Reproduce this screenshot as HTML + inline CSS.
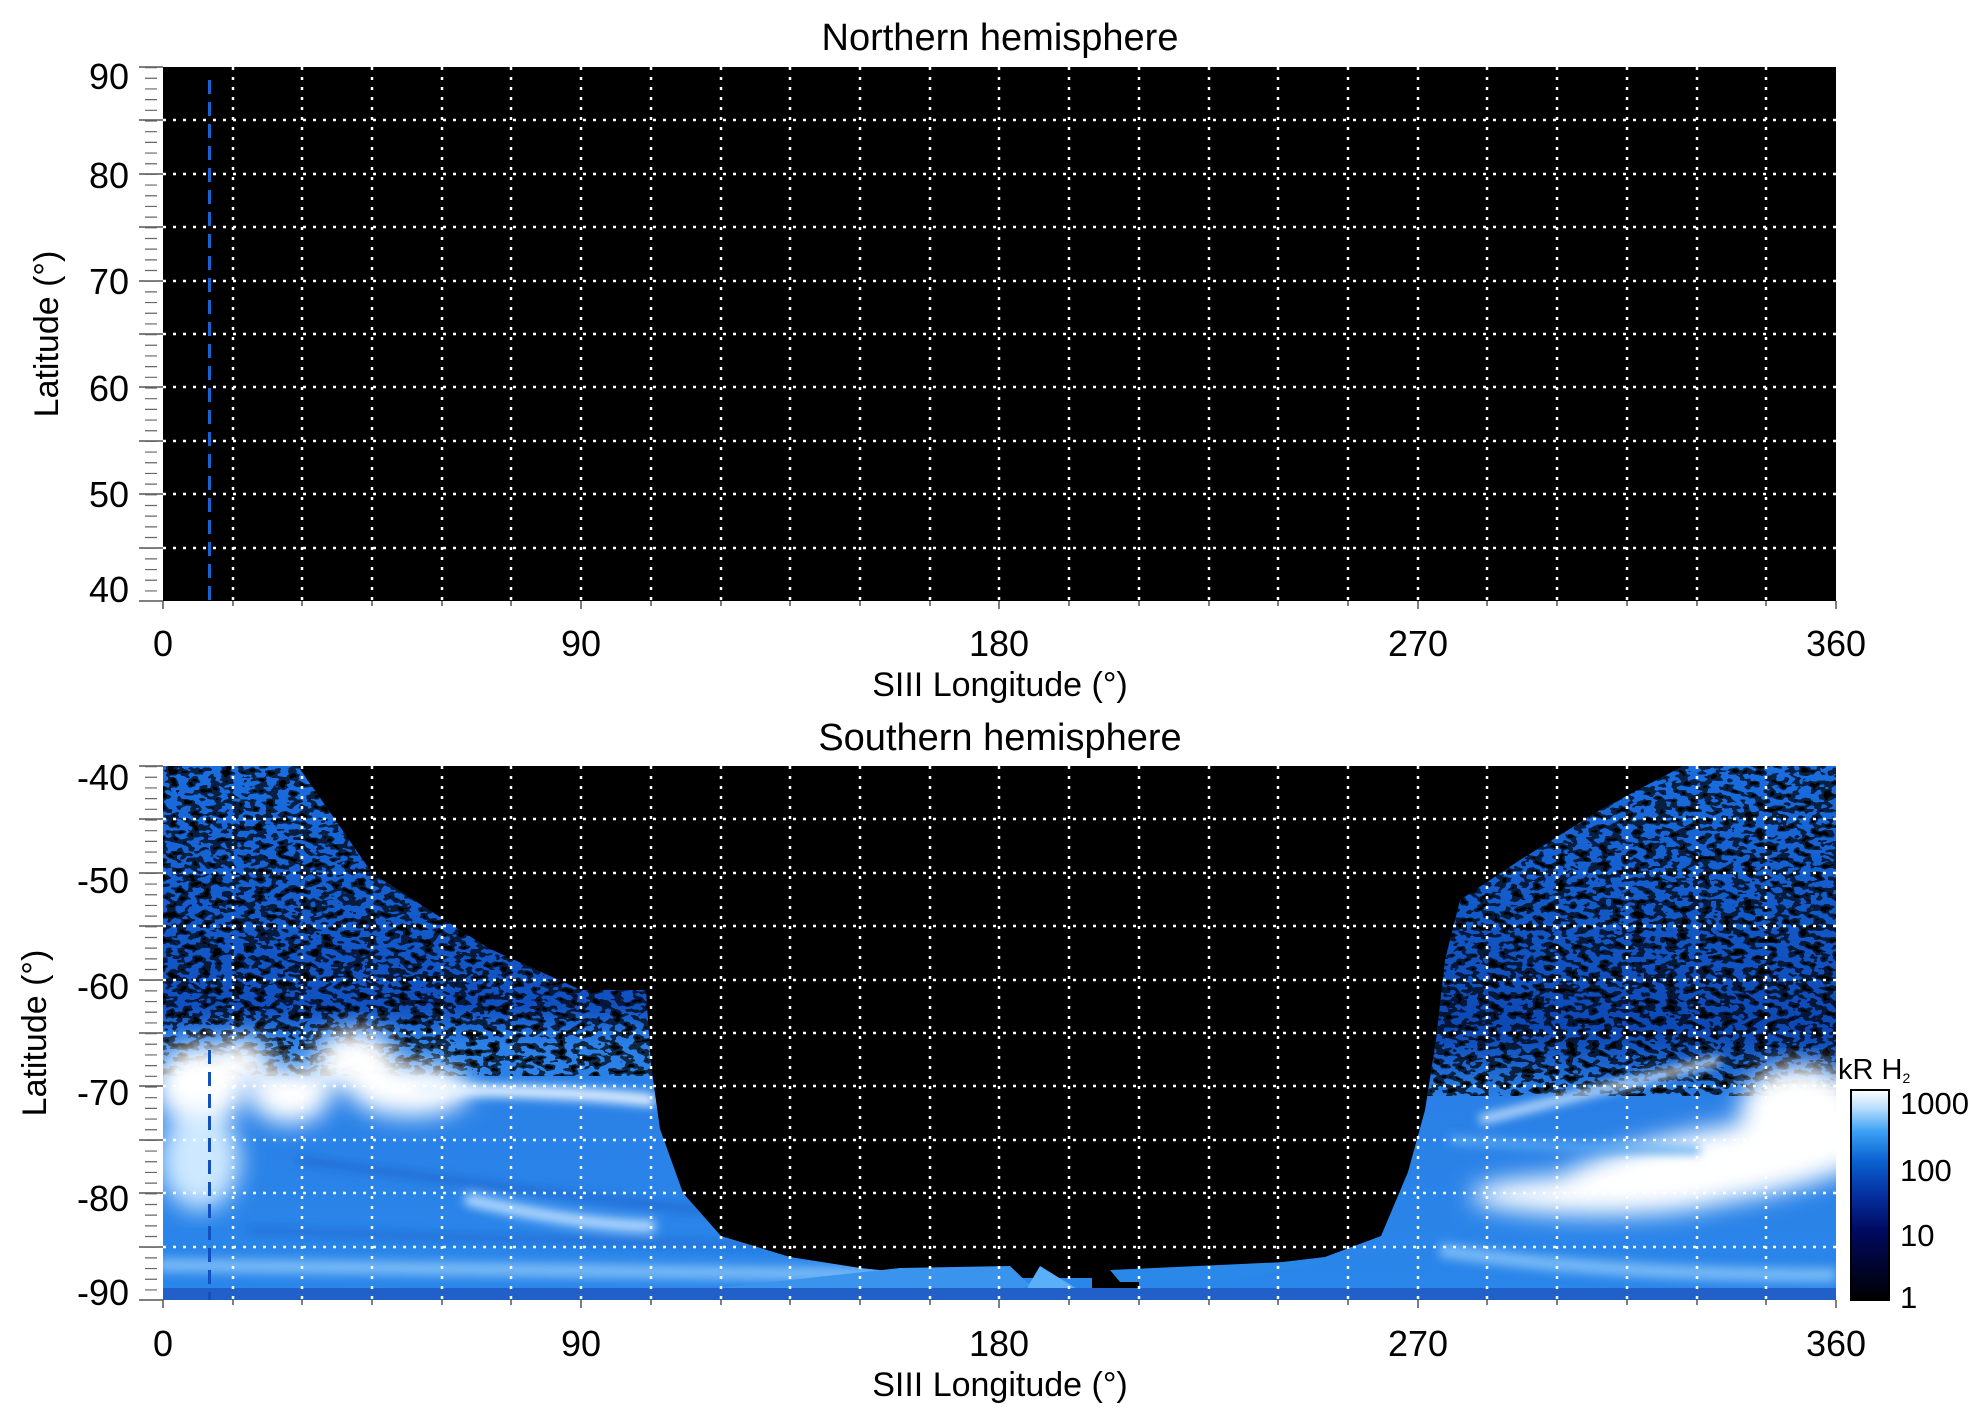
<!DOCTYPE html>
<html><head><meta charset="utf-8"><style>
html,body{margin:0;padding:0;background:#fff}
svg{display:block}
text{font-family:"Liberation Sans",sans-serif;fill:#000}
</style></head><body>
<svg width="1983" height="1423" viewBox="0 0 1983 1423" xmlns="http://www.w3.org/2000/svg">
<defs>
<linearGradient id="cb" x1="0" y1="1" x2="0" y2="0">
<stop offset="0" stop-color="#000000"/>
<stop offset="0.33" stop-color="#000a60"/>
<stop offset="0.5" stop-color="#0530a0"/>
<stop offset="0.66" stop-color="#0a60d0"/>
<stop offset="0.8" stop-color="#3aa0f4"/>
<stop offset="0.92" stop-color="#bfe0fc"/>
<stop offset="1" stop-color="#ffffff"/>
</linearGradient>
<linearGradient id="lg" x1="0" y1="766" x2="0" y2="1300" gradientUnits="userSpaceOnUse">
<stop offset="0" stop-color="#1a6ee0"/>
<stop offset="0.45" stop-color="#1050c0"/>
<stop offset="0.52" stop-color="#2a80e6"/>
<stop offset="1" stop-color="#2a86ea"/>
</linearGradient>
<linearGradient id="rg" x1="0" y1="766" x2="0" y2="1300" gradientUnits="userSpaceOnUse">
<stop offset="0" stop-color="#1a6ee0"/>
<stop offset="0.5" stop-color="#0c48b4"/>
<stop offset="0.62" stop-color="#2a80e6"/>
<stop offset="1" stop-color="#2a86ea"/>
</linearGradient>
<linearGradient id="sm" x1="0" y1="0" x2="0" y2="1">
<stop offset="0" stop-color="#fff" stop-opacity="0.8"/>
<stop offset="0.8" stop-color="#fff" stop-opacity="1"/>
<stop offset="1" stop-color="#fff" stop-opacity="0"/>
</linearGradient>
<filter id="spk" x="0" y="0" width="1" height="1">
<feTurbulence type="fractalNoise" baseFrequency="0.09 0.16" numOctaves="2" seed="3"/>
<feColorMatrix type="matrix" values="0 0 0 0 0  0 0 0 0 0  0 0 0 0 0  1 0 0 0 0"/>
<feComponentTransfer><feFuncA type="discrete" tableValues="0 0 0 0.7 1 1"/></feComponentTransfer>
</filter>
<filter id="blur"><feGaussianBlur stdDeviation="12"/></filter>
<filter id="blur2"><feGaussianBlur stdDeviation="5"/></filter>
<clipPath id="cl"><path d="M163,766 L298,766 L372,873 L488,948 L581,990 L646,990 L651,1065 L660,1129 L683,1193 L721,1236 L790,1257 L860,1268 L953,1278 L1092,1278 L1092,1300 L163,1300Z"/></clipPath>
<clipPath id="cr"><path d="M1836,766 L1683,766 L1600,810 L1520,860 L1460,900 L1445,960 L1436,1040 L1425,1110 L1408,1172 L1381,1236 L1325,1257 L1232,1268 L1139,1278 L1139,1300 L1836,1300Z"/></clipPath>
<clipPath id="cp"><rect x="163" y="766" width="1673" height="534"/></clipPath>
</defs>

<!-- Top panel -->
<text x="1000" y="50" font-size="38" text-anchor="middle">Northern hemisphere</text>
<rect x="163" y="67" width="1673" height="534" fill="#000"/>
<g stroke="#fff" stroke-width="2.5" stroke-dasharray="3 7" fill="none">
<path d="M233,67V601M302,67V601M372,67V601M442,67V601M511,67V601M581,67V601M651,67V601M721,67V601M790,67V601M860,67V601M930,67V601M999,67V601M1069,67V601M1139,67V601M1209,67V601M1278,67V601M1348,67V601M1418,67V601M1487,67V601M1557,67V601M1627,67V601M1697,67V601M1766,67V601"/>
<path d="M163,120H1836M163,174H1836M163,227H1836M163,281H1836M163,334H1836M163,387H1836M163,441H1836M163,494H1836M163,548H1836"/>
</g>
<line x1="209.5" y1="80" x2="209.5" y2="601" stroke="#1565d0" stroke-width="3" stroke-dasharray="14 8"/>

<!-- Bottom panel -->
<text x="1000" y="750" font-size="38" text-anchor="middle">Southern hemisphere</text>
<rect x="163" y="766" width="1673" height="534" fill="#000"/>
<g clip-path="url(#cl)">
<rect x="163" y="766" width="940" height="534" fill="url(#lg)"/>
<rect x="163" y="766" width="940" height="310" filter="url(#spk)"/>
<g filter="url(#blur)" fill="#fff">
<ellipse cx="200" cy="1085" rx="45" ry="40"/>
<ellipse cx="240" cy="1060" rx="30" ry="20"/>
<ellipse cx="290" cy="1095" rx="40" ry="28"/>
<ellipse cx="355" cy="1060" rx="40" ry="30"/>
<ellipse cx="410" cy="1090" rx="60" ry="26"/>
<ellipse cx="200" cy="1160" rx="40" ry="50" fill="#cde8ff"/>
</g>
<g filter="url(#blur2)" fill="none" stroke-linecap="round">
<path d="M420,1090 Q560,1090 650,1100" stroke="#eaf5ff" stroke-width="12"/>
<path d="M470,1200 Q580,1225 650,1226" stroke="#b8dcff" stroke-width="12"/>
<path d="M163,1265 Q600,1270 900,1275" stroke="#78baf6" stroke-width="14"/>
<path d="M300,1160 Q520,1190 700,1210" stroke="#1a60c8" stroke-width="5"/>
<path d="M250,1230 Q500,1240 760,1245" stroke="#1a60c8" stroke-width="4"/>
</g>
</g>
<g clip-path="url(#cr)">
<rect x="1130" y="766" width="710" height="534" fill="url(#rg)"/>
<rect x="1130" y="766" width="710" height="330" filter="url(#spk)"/>
<g filter="url(#blur)" fill="#fff">
<ellipse cx="1720" cy="1165" rx="180" ry="38" transform="rotate(-10 1720 1165)"/>
<ellipse cx="1800" cy="1110" rx="60" ry="45"/>
<ellipse cx="1600" cy="1195" rx="130" ry="20"/>
</g>
<g filter="url(#blur2)" fill="none">
<path d="M1480,1120 Q1600,1090 1720,1060" stroke="#d8ecff" stroke-width="8"/>
<path d="M1440,1250 Q1600,1275 1836,1275" stroke="#78baf6" stroke-width="14"/>
<path d="M1450,1140 Q1600,1150 1700,1150" stroke="#5aa8f0" stroke-width="8"/>
</g>
</g>
<!-- bottom fan -->
<g clip-path="url(#cp)">
<path d="M700,1290 L900,1268 L1010,1266 L1030,1285 L1000,1300 L720,1300Z" fill="#3a94ee"/>
<path d="M1020,1300 L1040,1266 L1095,1300Z" fill="#5ab0f8"/>
<path d="M1110,1270 L1330,1260 L1230,1282 L1120,1282Z" fill="#2a88e8"/>
<rect x="163" y="1288" width="1673" height="12" fill="#2060c8"/>
</g>
<g stroke="#fff" stroke-width="2.5" stroke-dasharray="3 7" fill="none">
<path d="M233,766V1300M302,766V1300M372,766V1300M442,766V1300M511,766V1300M581,766V1300M651,766V1300M721,766V1300M790,766V1300M860,766V1300M930,766V1300M999,766V1300M1069,766V1300M1139,766V1300M1209,766V1300M1278,766V1300M1348,766V1300M1418,766V1300M1487,766V1300M1557,766V1300M1627,766V1300M1697,766V1300M1766,766V1300"/>
<path d="M163,819H1836M163,873H1836M163,926H1836M163,980H1836M163,1033H1836M163,1086H1836M163,1140H1836M163,1193H1836M163,1247H1836"/>
</g>
<line x1="209.5" y1="1050" x2="209.5" y2="1300" stroke="#1050c0" stroke-width="3" stroke-dasharray="14 8"/>

<!-- Axes ticks -->
<g stroke="#555" stroke-width="1.5">
<path d="M139,67H163M139,120H163M139,174H163M139,227H163M139,281H163M139,334H163M139,387H163M139,441H163M139,494H163M139,548H163M139,601H163"/>
<path d="M139,766H163M139,819H163M139,873H163M139,926H163M139,980H163M139,1033H163M139,1086H163M139,1140H163M139,1193H163M139,1247H163M139,1300H163"/>
</g>
<g stroke="#666">
<line x1="151" y1="67" x2="151" y2="601" stroke-width="12" stroke-dasharray="1.2 9.48"/>
<line x1="151" y1="766" x2="151" y2="1300" stroke-width="12" stroke-dasharray="1.2 9.48"/>
</g>
<g stroke="#555" stroke-width="1.5">
<path d="M163,601v8M233,601v5M302,601v5M372,601v5M442,601v5M511,601v5M581,601v8M651,601v5M721,601v5M790,601v5M860,601v5M930,601v5M999,601v8M1069,601v5M1139,601v5M1209,601v5M1278,601v5M1348,601v5M1418,601v8M1487,601v5M1557,601v5M1627,601v5M1697,601v5M1766,601v5M1836,601v8"/>
<path d="M163,1300v8M233,1300v5M302,1300v5M372,1300v5M442,1300v5M511,1300v5M581,1300v8M651,1300v5M721,1300v5M790,1300v5M860,1300v5M930,1300v5M999,1300v8M1069,1300v5M1139,1300v5M1209,1300v5M1278,1300v5M1348,1300v5M1418,1300v8M1487,1300v5M1557,1300v5M1627,1300v5M1697,1300v5M1766,1300v5M1836,1300v8"/>
</g>

<!-- Y tick labels -->
<g font-size="36" text-anchor="end">
<text x="129" y="89">90</text><text x="129" y="188">80</text><text x="129" y="294">70</text><text x="129" y="401">60</text><text x="129" y="507">50</text><text x="129" y="602">40</text>
<text x="129" y="790">-40</text><text x="129" y="893">-50</text><text x="129" y="999">-60</text><text x="129" y="1105">-70</text><text x="129" y="1211">-80</text><text x="129" y="1305">-90</text>
</g>
<text transform="translate(58,334) rotate(-90)" font-size="34" text-anchor="middle">Latitude (°)</text>
<text transform="translate(46,1033) rotate(-90)" font-size="34" text-anchor="middle">Latitude (°)</text>

<!-- X tick labels -->
<g font-size="36" text-anchor="middle">
<text x="163" y="656">0</text><text x="581" y="656">90</text><text x="999" y="656">180</text><text x="1418" y="656">270</text><text x="1836" y="656">360</text>
<text x="163" y="1356">0</text><text x="581" y="1356">90</text><text x="999" y="1356">180</text><text x="1418" y="1356">270</text><text x="1836" y="1356">360</text>
</g>
<text x="1000" y="696" font-size="34" text-anchor="middle">SIII Longitude (°)</text>
<text x="1000" y="1396" font-size="34" text-anchor="middle">SIII Longitude (°)</text>

<!-- Colorbar -->
<rect x="1851" y="1090" width="38" height="210" fill="url(#cb)" stroke="#000" stroke-width="2"/>
<text x="1838" y="1079" font-size="29">kR H<tspan font-size="14" dy="4">2</tspan></text>
<g font-size="31">
<text x="1900" y="1114">1000</text>
<text x="1900" y="1181">100</text>
<text x="1900" y="1246">10</text>
<text x="1900" y="1308">1</text>
</g>
</svg>
</body></html>
